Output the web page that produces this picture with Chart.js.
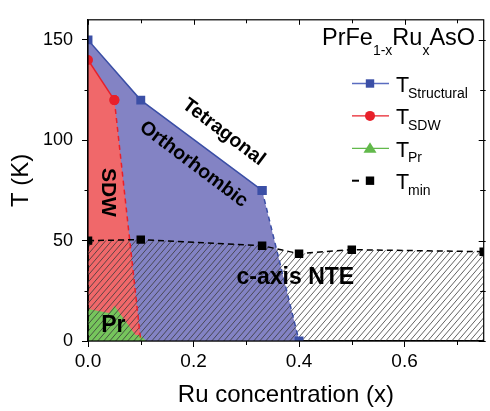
<!DOCTYPE html>
<html>
<head>
<meta charset="utf-8">
<script src="https://cdn.jsdelivr.net/npm/chart.js@4.4.1/dist/chart.umd.min.js"></script>
<style>
  html, body { margin: 0; padding: 0; background: #fff; }
  #wrap { width: 490px; height: 411px; }
</style>
</head>
<body>
<div id="wrap"><canvas id="myChart" width="490" height="411"></canvas></div>
<script>
'use strict';

// phase boundaries (x = Ru concentration, T in K)
var xStructural = [0, 0.1, 0.33, 0.4];
var tStructural = [150, 120, 75, 0];
var xSDW = [0, 0.05, 0.1];
var tSDW = [140, 120, 0];
var xPr = [0, 0.04, 0.05, 0.09, 0.1, 0.11];
var tPr = [16, 14, 17.5, 3, 3, 0];
var xMin = [0, 0.1, 0.33, 0.4, 0.5, 0.75];
var tMin = [50, 50.5, 47.5, 43.5, 45.5, 44.5];

var xTicks = [0, 0.2, 0.4, 0.6];
var xMinor = [0.1, 0.3, 0.5, 0.7];
var yTicks = [0, 50, 100, 150];
var yMinor = [25, 75, 125];

var seriesSub = ['Structural', 'SDW', 'Pr', 'min'];

var FONT = '"Liberation Sans", Arial, sans-serif';
var BLUE = '#3b4fa6';
var RED = '#e8202a';
var GREEN = '#62b94b';
var NONE = 'rgba(0,0,0,0)';

function toPoints(xs, ys) {
  return xs.map(function (x, i) { return { x: x, y: ys[i] }; });
}

// diagonal hatch used for the c-axis NTE region
function makeHatch() {
  var w = 6, h = 7;
  var c = document.createElement('canvas');
  c.width = w; c.height = h;
  var g = c.getContext('2d');
  g.strokeStyle = '#3a3a3a';
  g.lineWidth = 0.8;
  for (var n = 0; n <= 2; n++) {
    g.beginPath();
    g.moveTo(-w, (n + 1) * h);
    g.lineTo(2 * w, (n - 2) * h);
    g.stroke();
  }
  return g.createPattern(c, 'repeat');
}

var annotations = [
  { text: 'Tetragonal', x: 0.257, y: 104, angle: 37, size: 19.5 },
  { text: 'Orthorhombic', x: 0.2, y: 88, angle: 37, size: 19.5 },
  { text: 'SDW', x: 0.037, y: 74, angle: 90, size: 21 },
  { text: 'Pr', x: 0.048, y: 7.5, angle: 0, size: 23 },
  { text: 'c-axis NTE', x: 0.393, y: 31.5, angle: 0, size: 23 }
];

// legend rows: line colour, marker, marker colour, short dash or not
var legendRows = [
  { line: '#5a6cc0', marker: 'rect', color: BLUE, shortLine: false },
  { line: RED, marker: 'circle', color: RED, shortLine: false },
  { line: GREEN, marker: 'triangle', color: GREEN, shortLine: false },
  { line: '#000', marker: 'rect', color: '#000', shortLine: true }
];

function drawMarker(ctx, style, x, y, color) {
  ctx.fillStyle = color;
  ctx.beginPath();
  if (style === 'rect') {
    ctx.rect(x - 4.2, y - 4.2, 8.4, 8.4);
  } else if (style === 'circle') {
    ctx.arc(x, y, 5, 0, Math.PI * 2);
  } else {
    ctx.moveTo(x, y - 6);
    ctx.lineTo(x + 6.5, y + 4.5);
    ctx.lineTo(x - 6.5, y + 4.5);
    ctx.closePath();
  }
  ctx.fill();
}

var decorPlugin = {
  id: 'decor',
  afterDraw: function (chart) {
    var ctx = chart.ctx;
    var a = chart.chartArea;
    var xs = chart.scales.x, ys = chart.scales.y;
    ctx.save();

    // frame and ticks on all sides
    ctx.strokeStyle = '#000';
    ctx.lineWidth = 1.2;
    ctx.strokeRect(a.left, a.top, a.right - a.left, a.bottom - a.top);
    ctx.lineWidth = 1;
    ctx.beginPath();
    xTicks.forEach(function (v) {
      var px = Math.round(xs.getPixelForValue(v)) + 0.5;
      ctx.moveTo(px, a.top); ctx.lineTo(px, a.top + 5);
    });
    xMinor.forEach(function (v) {
      var px = Math.round(xs.getPixelForValue(v)) + 0.5;
      ctx.moveTo(px, a.top); ctx.lineTo(px, a.top + 3.5);
      ctx.moveTo(px, a.bottom); ctx.lineTo(px, a.bottom + 4);
    });
    yTicks.forEach(function (v) {
      var py = Math.round(ys.getPixelForValue(v)) + 0.5;
      ctx.moveTo(a.right - 5, py); ctx.lineTo(a.right + 2, py);
    });
    yMinor.forEach(function (v) {
      var py = Math.round(ys.getPixelForValue(v)) + 0.5;
      ctx.moveTo(a.left - 3.5, py); ctx.lineTo(a.left, py);
      ctx.moveTo(a.right - 3.5, py); ctx.lineTo(a.right + 2, py);
    });
    ctx.stroke();

    // region labels
    ctx.fillStyle = '#000';
    ctx.textAlign = 'center';
    ctx.textBaseline = 'middle';
    annotations.forEach(function (an) {
      ctx.save();
      ctx.translate(xs.getPixelForValue(an.x), ys.getPixelForValue(an.y));
      ctx.rotate(an.angle * Math.PI / 180);
      ctx.font = 'bold ' + an.size + 'px ' + FONT;
      ctx.fillText(an.text, 0, 0);
      ctx.restore();
    });

    // compound name with subscripts
    ctx.textAlign = 'left';
    ctx.textBaseline = 'alphabetic';
    var parts = [['PrFe', 0], ['1-x', 1], ['Ru', 0], ['x', 1], ['AsO', 0]];
    var tx = 322;
    parts.forEach(function (p) {
      ctx.font = (p[1] ? '14px ' : '23.5px ') + FONT;
      ctx.fillText(p[0], tx, p[1] ? 55 : 45);
      tx += ctx.measureText(p[0]).width;
    });

    // legend with subscripted labels
    legendRows.forEach(function (row, i) {
      var y = 83.5 + i * 32.4;
      ctx.strokeStyle = row.line;
      ctx.lineWidth = row.shortLine ? 2 : 1.3;
      ctx.beginPath();
      ctx.moveTo(352, y);
      ctx.lineTo(row.shortLine ? 359 : 389, y);
      ctx.stroke();
      drawMarker(ctx, row.marker, 370, y, row.color);
      ctx.fillStyle = '#000';
      ctx.font = '21.5px ' + FONT;
      ctx.fillText('T', 396, y + 8.5);
      ctx.font = '14px ' + FONT;
      ctx.fillText(seriesSub[i], 408, y + 14);
    });

    ctx.restore();
  }
};

var ctx = document.getElementById('myChart').getContext('2d');
var hatch = makeHatch();

function fillSet(xs, ys, bg, order) {
  return {
    data: toPoints(xs, ys),
    borderColor: NONE,
    borderWidth: 1,
    backgroundColor: bg,
    fill: 'origin',
    pointRadius: 0,
    order: order
  };
}

function lineSet(xs, ys, color, dash, style, radius, order) {
  return {
    data: toPoints(xs, ys),
    borderColor: color,
    borderWidth: 1.5,
    borderDash: dash,
    fill: false,
    pointStyle: style,
    pointRadius: radius,
    pointBackgroundColor: color,
    pointBorderWidth: 0,
    clip: 0,
    order: order
  };
}

var chart = new Chart(ctx, {
  type: 'line',
  data: {
    datasets: [
      // filled regions, drawn first
      fillSet(xStructural, tStructural, 'rgb(131,131,196)', 10),
      fillSet(xSDW, tSDW, 'rgb(240,104,106)', 9),
      fillSet(xPr, tPr, 'rgb(118,197,92)', 8),
      fillSet(xMin, tMin, hatch, 7),
      // boundary lines and points
      lineSet(xStructural.slice(0, 3), tStructural.slice(0, 3), BLUE, [], 'rect', 6.3, 4),
      lineSet(xStructural.slice(2), tStructural.slice(2), BLUE, [5, 4], 'rect', 6.3, 4),
      lineSet(xSDW.slice(0, 2), tSDW.slice(0, 2), RED, [], 'circle', 5, 3),
      lineSet(xSDW.slice(1), tSDW.slice(1), RED, [5, 4], 'circle', [5, 0], 3),
      lineSet(xMin, tMin, '#000', [6, 4], 'rect', 6, 1),
      lineSet([0, 0], [0, tMin[0]], '#000', [6, 4], 'rect', 0, 1)
    ]
  },
  options: {
    responsive: false,
    animation: false,
    devicePixelRatio: 1,
    layout: { padding: { top: 12, right: 2, left: 0, bottom: 0 } },
    plugins: {
      legend: { display: false },
      tooltip: { enabled: false }
    },
    elements: { line: { tension: 0 } },
    scales: {
      x: {
        type: 'linear',
        min: 0,
        max: 0.75,
        afterBuildTicks: function (s) { s.ticks = xTicks.map(function (v) { return { value: v }; }); },
        afterFit: function (s) { s.height = 70; },
        grid: { display: true, drawOnChartArea: false, drawTicks: true, tickLength: 6, color: '#000', lineWidth: 1 },
        border: { display: true, color: '#000', width: 1.2 },
        ticks: {
          color: '#000',
          padding: 3,
          maxRotation: 0,
          font: { family: FONT, size: 19 },
          callback: function (v) { return v.toFixed(1); }
        },
        title: {
          display: true,
          text: 'Ru concentration (x)',
          color: '#000',
          font: { family: FONT, size: 24 },
          padding: { top: 0, bottom: 1 }
        }
      },
      y: {
        type: 'linear',
        min: 0,
        max: 160,
        afterBuildTicks: function (s) { s.ticks = yTicks.map(function (v) { return { value: v }; }); },
        afterFit: function (s) { s.width = 88; },
        grid: { display: true, drawOnChartArea: false, drawTicks: true, tickLength: 6, color: '#000', lineWidth: 1 },
        border: { display: true, color: '#000', width: 1.2 },
        ticks: {
          color: '#000',
          padding: 9,
          font: { family: FONT, size: 18 }
        },
        title: {
          display: true,
          text: 'T (K)',
          color: '#000',
          font: { family: FONT, size: 24 },
          padding: { top: 7, bottom: 0 }
        }
      }
    }
  },
  plugins: [decorPlugin]
});
</script>
</body>
</html>
